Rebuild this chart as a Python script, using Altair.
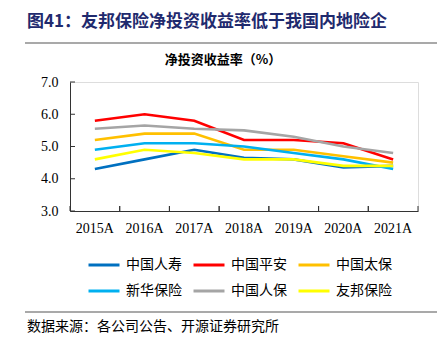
import altair as alt
import pandas as pd

years = ["2015A", "2016A", "2017A", "2018A", "2019A", "2020A", "2021A"]
companies = ["中国人寿", "中国平安", "中国太保", "新华保险", "中国人保", "友邦保险"]
colors = ["#0070C0", "#FF0000", "#FFC000", "#00B0F0", "#A5A5A5", "#FFFF00"]

china_life = [4.3, 4.6, 4.9, 4.65, 4.6, 4.35, 4.4]
ping_an = [5.8, 6.0, 5.8, 5.2, 5.2, 5.1, 4.6]
cpic = [5.2, 5.4, 5.4, 4.9, 4.9, 4.7, 4.5]
nci = [4.9, 5.1, 5.1, 5.0, 4.8, 4.6, 4.3]
picc = [5.55, 5.65, 5.55, 5.5, 5.3, 5.0, 4.8]
aia = [4.6, 4.9, 4.8, 4.6, 4.6, 4.4, 4.4]
series = [china_life, ping_an, cpic, nci, picc, aia]

y_ticks = [3.0, 4.0, 5.0, 6.0, 7.0]

title_text = "图41：友邦保险净投资收益率低于我国内地险企"
chart_title = "净投资收益率（%）"
source_text = "数据来源：各公司公告、开源证券研究所"

rows = []
for name, vals in zip(companies, series):
    for yr, v in zip(years, vals):
        rows.append({"year": yr, "company": name, "value": v})
df = pd.DataFrame(rows)

W, H = 348, 129
CJK = "Noto Sans CJK SC"
SERIF = "Liberation Serif"

xscale = alt.Scale(type="band", domain=years, paddingInner=0, paddingOuter=0)
yscale = alt.Scale(domain=[3, 7], nice=False, zero=False)

xaxis = alt.Axis(title=None, labelAngle=0, labelFont=SERIF, labelFontSize=14,
                 labelColor="#000", ticks=False, domainColor="#333",
                 labelPadding=10, labelOverlap=False)
yaxis = alt.Axis(title=None, values=y_ticks, format=".1f", labelFont=SERIF,
                 labelFontSize=14, labelColor="#000", ticks=False,
                 domainColor="#333", grid=False, labelPadding=12,
                 labelOverlap=False)

lines = alt.Chart(df).mark_line(strokeWidth=2.6).encode(
    x=alt.X("year:O", scale=xscale, sort=years, axis=xaxis),
    y=alt.Y("value:Q", scale=yscale, axis=yaxis),
    color=alt.Color("company:N", sort=companies,
                    scale=alt.Scale(domain=companies, range=colors),
                    legend=alt.Legend(title=None, orient="none", legendX=17, legendY=166,
                                      columns=3, direction="horizontal",
                                      symbolType="stroke", symbolSize=961,
                                      symbolStrokeWidth=3, labelOffset=5,
                                      columnPadding=5, rowPadding=2,
                                      labelFont=CJK, labelFontSize=14, labelColor="#000",
                                      labelLimit=200)),
    order=alt.Order("year:O"),
)

ytick_df = pd.DataFrame({"v": y_ticks})
yticks = alt.Chart(ytick_df).mark_rule(color="#333", strokeWidth=1).encode(
    y=alt.Y("v:Q", scale=yscale, axis=yaxis), x=alt.value(0), x2=alt.value(5))

xtick_df = pd.DataFrame({"year": years})
xticks0 = alt.Chart(xtick_df).mark_rule(color="#333", strokeWidth=1).encode(
    x=alt.X("year:O", scale=xscale, sort=years, bandPosition=0, axis=xaxis),
    y=alt.value(H - 5), y2=alt.value(H))
xticks1 = alt.Chart(xtick_df).mark_rule(color="#333", strokeWidth=1).encode(
    x=alt.X("year:O", scale=xscale, sort=years, bandPosition=1, axis=xaxis),
    y=alt.value(H - 5), y2=alt.value(H))

one = pd.DataFrame({"t": [title_text], "c": [chart_title], "s": [source_text]})
title = alt.Chart(one).mark_text(font=CJK, fontSize=17, fontWeight="bold", color="#1F2A6E",
                                 align="left", baseline="middle").encode(
    text="t:N", x=alt.value(-43), y=alt.value(-60))
subtitle = alt.Chart(one).mark_text(font=CJK, fontSize=13, fontWeight="bold", color="#000",
                                    align="center", baseline="middle").encode(
    text="c:N", x=alt.value(153), y=alt.value(-22))
source = alt.Chart(one).mark_text(font=CJK, fontSize=14, color="#000",
                                  align="left", baseline="middle").encode(
    text="s:N", x=alt.value(-43), y=alt.value(245))
rule_top = alt.Chart(one).mark_rule(color="#8C8C8C", strokeWidth=1.5).encode(
    x=alt.value(-45), x2=alt.value(367), y=alt.value(-39))
rule_bot = alt.Chart(one).mark_rule(color="#8C8C8C", strokeWidth=1.5).encode(
    x=alt.value(-45), x2=alt.value(367), y=alt.value(230))

chart = alt.layer(lines, yticks, xticks0, xticks1, title, subtitle, source, rule_top, rule_bot).properties(
    width=W, height=H,
    autosize=alt.AutoSizeParams(type="none"),
    padding={"left": 70, "top": 82, "right": 28, "bottom": 141},
).configure_view(stroke=None).configure(background="white")

chart.save("out.html", embed_options={"renderer": "svg", "actions": False})
